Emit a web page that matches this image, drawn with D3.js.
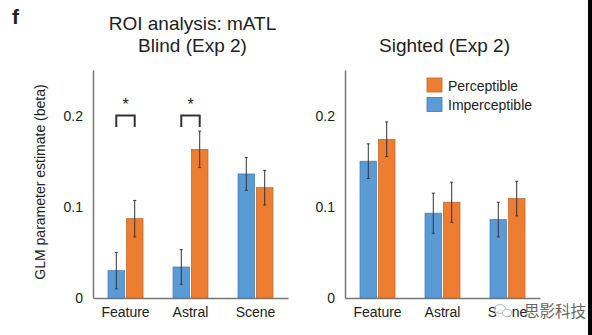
<!DOCTYPE html>
<html>
<head>
<meta charset="utf-8">
<script src="https://cdn.jsdelivr.net/npm/d3@7"></script>
<style>
  html, body { margin: 0; padding: 0; background: #fff; }
  svg { display: block; }
  text { font-family: "Liberation Sans", Arial, Helvetica, sans-serif; fill: #222; }
</style>
</head>
<body>
<script>
// ---- data ----
const categories = ["Feature", "Astral", "Scene"];
const conditions = ["Imperceptible", "Perceptible"];
const legendOrder = ["Perceptible", "Imperceptible"];
const yTicks = [0, 0.1, 0.2];
const yTickLabels = ["0", "0.1", "0.2"];

const blindImperceptible = [0.030, 0.034, 0.136];
const blindPerceptible = [0.087, 0.163, 0.121];
const blindImperceptibleErr = [0.020, 0.019, 0.018];
const blindPerceptibleErr = [0.020, 0.020, 0.019];

const sightedImperceptible = [0.150, 0.093, 0.086];
const sightedPerceptible = [0.174, 0.105, 0.109];
const sightedImperceptibleErr = [0.019, 0.022, 0.019];
const sightedPerceptibleErr = [0.019, 0.022, 0.019];

// significant Perceptible vs Imperceptible differences (Blind panel)
const blindSignificant = ["Feature", "Astral"];

const colors = { Imperceptible: "#5B9BD5", Perceptible: "#ED7D31" };
const strokes = { Imperceptible: "#3F7AB2", Perceptible: "#C0622A" };

const W = 592, H = 335;
const svg = d3.select("body").append("svg").attr("width", W).attr("height", H);
svg.append("rect").attr("width", W).attr("height", H).attr("fill", "#fff");

const y = d3.scaleLinear().domain([0, 0.25]).range([298, 70]);

function buildRows(imp, perc, impErr, percErr) {
  return categories.map((c, i) => ({
    category: c,
    values: [
      { key: "Imperceptible", value: imp[i], err: impErr[i] },
      { key: "Perceptible", value: perc[i], err: percErr[i] }
    ]
  }));
}

function drawPanel(left, rows, titleLines, significant) {
  const g = svg.append("g").attr("transform", `translate(${left},0)`);
  const x0 = d3.scaleBand().domain(categories).range([0, 195]).padding(0);
  const half = 17.5;
  const x1 = d3.scaleBand().domain(conditions)
    .range([x0.bandwidth() / 2 - half, x0.bandwidth() / 2 + half])
    .paddingInner(0.1);

  // y axis: line + labels only
  const yAxis = d3.axisLeft(y).tickValues(yTicks)
    .tickFormat((d, i) => yTickLabels[i]).tickSize(0).tickPadding(10);
  const ya = g.append("g").call(yAxis);
  ya.select(".domain").attr("stroke", "#777").attr("stroke-width", 1.5);
  ya.selectAll("text").attr("font-size", 14).style("fill", "#222")
    .style("font-family", "'Liberation Sans', Arial, sans-serif");

  // x axis
  const xAxis = d3.axisBottom(x0).tickSize(0).tickPadding(9);
  const xa = g.append("g").attr("transform", `translate(0,${y(0)})`).call(xAxis);
  xa.select(".domain").attr("stroke", "#777").attr("stroke-width", 1.5);
  xa.selectAll("text").attr("font-size", 14).style("fill", "#222")
    .style("font-family", "'Liberation Sans', Arial, sans-serif");

  // bars
  const grp = g.selectAll(".grp").data(rows).enter().append("g")
    .attr("transform", d => `translate(${x0(d.category)},0)`);
  grp.selectAll("rect").data(d => d.values).enter().append("rect")
    .attr("x", d => x1(d.key))
    .attr("y", d => y(d.value))
    .attr("width", x1.bandwidth())
    .attr("height", d => y(0) - y(d.value))
    .attr("fill", d => colors[d.key])
    .attr("stroke", d => strokes[d.key])
    .attr("stroke-width", 0.7);

  // error bars
  const eb = grp.selectAll(".err").data(d => d.values).enter().append("g")
    .attr("stroke", "#333").attr("stroke-width", 1);
  const cx = d => x1(d.key) + x1.bandwidth() / 2;
  eb.append("line").attr("x1", cx).attr("x2", cx)
    .attr("y1", d => y(d.value + d.err)).attr("y2", d => y(d.value - d.err));
  eb.append("line").attr("x1", d => cx(d) - 1.5).attr("x2", d => cx(d) + 1.5)
    .attr("y1", d => y(d.value + d.err)).attr("y2", d => y(d.value + d.err));
  eb.append("line").attr("x1", d => cx(d) - 1.5).attr("x2", d => cx(d) + 1.5)
    .attr("y1", d => y(d.value - d.err)).attr("y2", d => y(d.value - d.err));

  // significance brackets
  significant.forEach(c => {
    const xa0 = x0(c) + x1("Imperceptible") + x1.bandwidth() / 2;
    const xb0 = x0(c) + x1("Perceptible") + x1.bandwidth() / 2;
    g.append("path")
      .attr("d", `M${xa0},127 V115.5 H${xb0} V127`)
      .attr("fill", "none").attr("stroke", "#333").attr("stroke-width", 2);
    g.append("text").attr("x", (xa0 + xb0) / 2).attr("y", 110)
      .attr("text-anchor", "middle").attr("font-size", 16).text("*");
  });

  // title
  titleLines.forEach(t => {
    g.append("text").attr("x", x0.range()[1] / 2 + 2).attr("y", t.y)
      .attr("text-anchor", "middle").attr("font-size", 19).text(t.text);
  });
  return g;
}

drawPanel(93, buildRows(blindImperceptible, blindPerceptible, blindImperceptibleErr, blindPerceptibleErr),
  [{ text: "ROI analysis: mATL", y: 30 }, { text: "Blind (Exp 2)", y: 52 }], blindSignificant);

drawPanel(345, buildRows(sightedImperceptible, sightedPerceptible, sightedImperceptibleErr, sightedPerceptibleErr),
  [{ text: "Sighted (Exp 2)", y: 52 }], []);

// y-axis title (left panel)
svg.append("text")
  .attr("transform", "translate(45,182) rotate(-90)")
  .attr("text-anchor", "middle").attr("font-size", 14)
  .text("GLM parameter estimate (beta)");

// panel letter
svg.append("text").attr("x", 12).attr("y", 24)
  .attr("font-size", 21).attr("font-weight", "bold").text("f");

// legend
const legend = svg.append("g").attr("transform", "translate(427,78)");
legendOrder.forEach((k, i) => {
  const row = legend.append("g").attr("transform", `translate(0,${i * 19.5})`);
  row.append("rect").attr("width", 15).attr("height", 14)
    .attr("fill", colors[k]).attr("stroke", strokes[k]).attr("stroke-width", 0.8);
  row.append("text").attr("x", 21).attr("y", 12.5).attr("font-size", 14).text(k);
});

// watermark
const wm = svg.append("g");
wm.append("ellipse").attr("cx", 503).attr("cy", 311).attr("rx", 8).attr("ry", 7)
  .attr("fill", "#fff").attr("opacity", 0.9);
wm.append("ellipse").attr("cx", 500).attr("cy", 309).attr("rx", 5.5).attr("ry", 4.5)
  .attr("fill", "none").attr("stroke", "#bbb").attr("stroke-width", 1);
wm.append("ellipse").attr("cx", 507).attr("cy", 313).attr("rx", 4.5).attr("ry", 3.8)
  .attr("fill", "#fff").attr("stroke", "#bbb").attr("stroke-width", 1);
svg.append("text").attr("x", 524).attr("y", 317)
  .style("font-family", "'Noto Sans CJK SC', sans-serif")
  .style("fill", "#666").attr("font-size", 15.5).text("思影科技");

// right edge strip
svg.append("rect").attr("x", 588).attr("y", 0).attr("width", 4).attr("height", H).attr("fill", "#000");
</script>
</body>
</html>
